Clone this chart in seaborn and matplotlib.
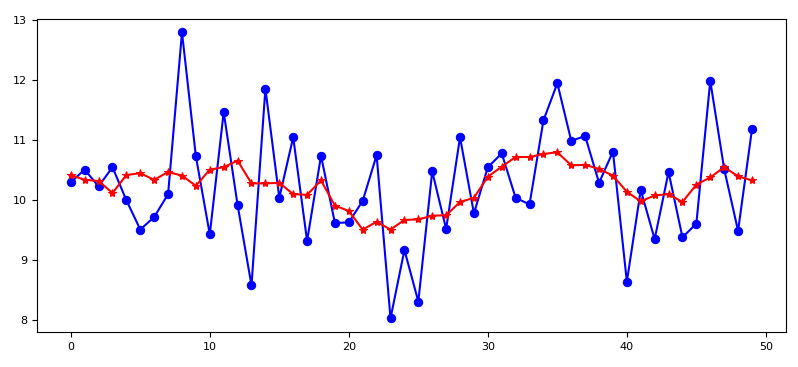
import seaborn as sns
import matplotlib.pyplot as plt
import numpy as np
import pandas as pd

x = np.arange(50)
blue = [10.30, 10.51, 10.23, 10.55, 10.00, 9.51, 9.72, 10.10, 12.80, 10.73,
        9.43, 11.47, 9.92, 8.58, 11.86, 10.04, 11.05, 9.32, 10.74, 9.62,
        9.63, 9.99, 10.75, 8.03, 9.17, 8.31, 10.48, 9.52, 11.05, 9.78,
        10.55, 10.78, 10.04, 9.93, 11.33, 11.95, 10.99, 11.07, 10.29, 10.81,
        8.64, 10.17, 9.35, 10.47, 9.38, 9.61, 11.99, 10.52, 9.49, 11.18]
red = [10.42, 10.34, 10.32, 10.12, 10.42, 10.45, 10.34, 10.47, 10.41, 10.24,
       10.51, 10.55, 10.66, 10.28, 10.28, 10.29, 10.10, 10.09, 10.33, 9.91,
       9.82, 9.51, 9.64, 9.51, 9.67, 9.68, 9.74, 9.75, 9.97, 10.04,
       10.39, 10.56, 10.72, 10.72, 10.77, 10.80, 10.58, 10.59, 10.52, 10.41,
       10.14, 9.98, 10.08, 10.10, 9.97, 10.26, 10.38, 10.55, 10.40, 10.33]

df = pd.DataFrame({'x': x, 'blue': blue, 'red': red})

fig = plt.figure(figsize=(7.98, 3.67), dpi=100)
ax = fig.add_axes([0.046, 0.095, 0.939, 0.853])

sns.lineplot(data=df, x='x', y='blue', color='blue', marker='o', markersize=6,
             markeredgecolor='blue', linewidth=1.5, ax=ax)
sns.lineplot(data=df, x='x', y='red', color='red', marker='*', markersize=6,
             markeredgecolor='red', linewidth=1.5, ax=ax)

ax.set_xlabel('')
ax.set_ylabel('')
ax.set_xticks([0, 10, 20, 30, 40, 50])
ax.set_yticks([8, 9, 10, 11, 12, 13])
ax.tick_params(labelsize=8)
ax.set_xlim(-2.45, 51.45)
ax.set_ylim(7.8, 13.02)

fig.savefig('out.png', dpi=100)
